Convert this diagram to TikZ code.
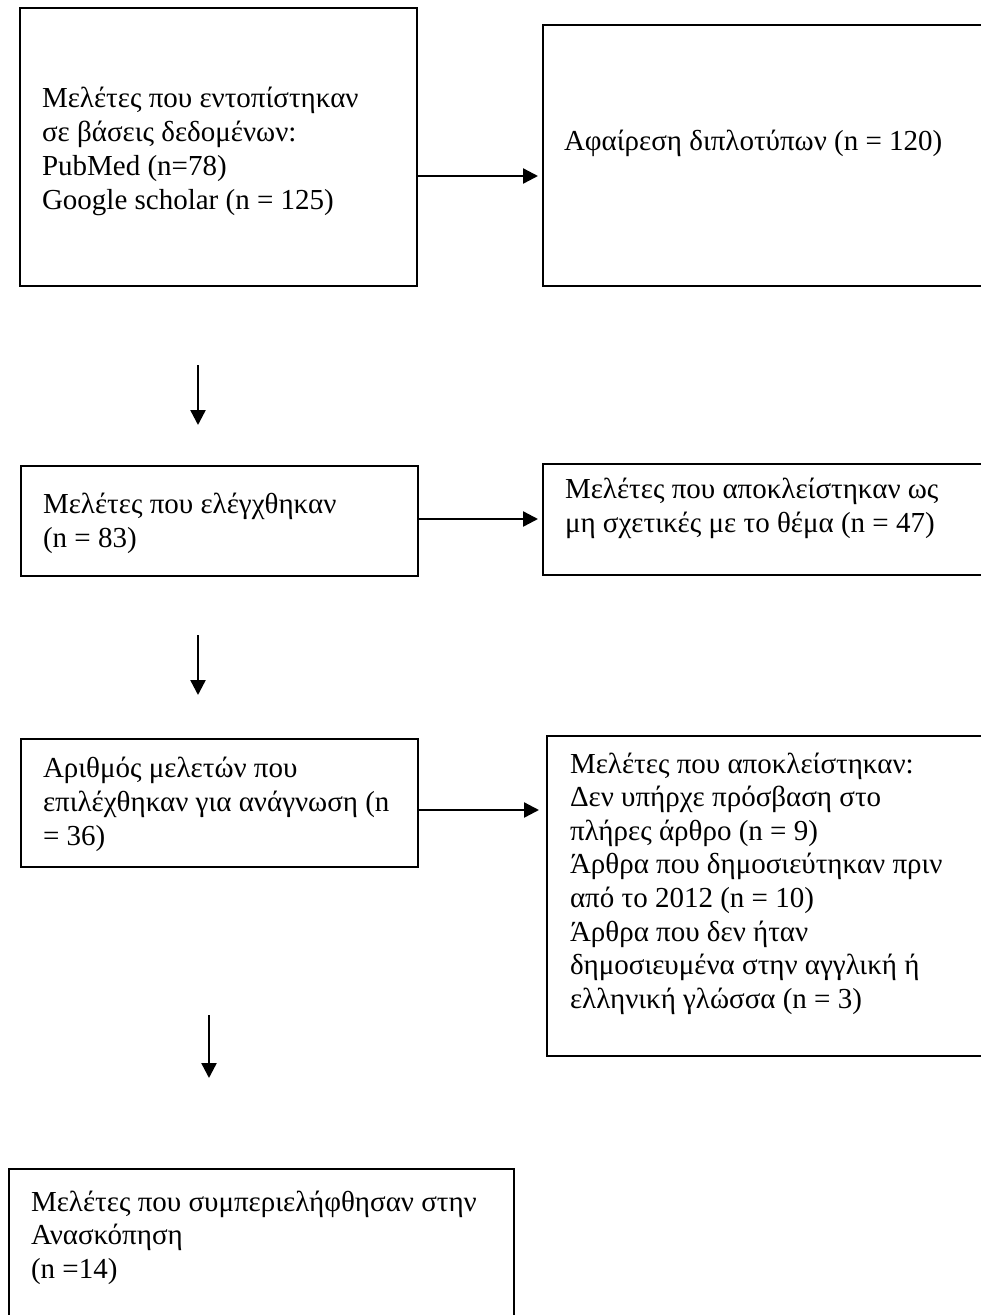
\documentclass[tikz,border=0pt]{standalone}
\usepackage{fontspec}
\setmainfont{Liberation Serif}
\usetikzlibrary{arrows.meta}
\tikzset{
  box/.style={draw=black, line width=2.6pt, rectangle, anchor=north west, inner sep=0pt, outer sep=0pt},
  txt/.style={anchor=base west, inner sep=0pt, outer sep=0pt, font=\fontsize{29}{34}\selectfont},
  arr/.style={line width=2.4pt, -{Triangle[length=15pt,width=15pt]}}
}
\newcommand{\boxtext}[2][34pt]{\parbox[t]{600pt}{\setlength{\baselineskip}{#1}\raggedright #2}}
\begin{document}
\begin{tikzpicture}[x=1pt,y=-1pt]
\useasboundingbox (0,0) rectangle (981,1315);
\fill[white] (0,0) rectangle (981,1315);
\clip (0,0) rectangle (981,1315);
% boxes
\node[box, minimum width=397pt, minimum height=278pt] (b1) at (20,8) {};
\node[box, minimum width=600pt, minimum height=261pt] (b2) at (543,25) {};
\node[box, minimum width=397pt, minimum height=110pt] (b3) at (21,466) {};
\node[box, minimum width=600pt, minimum height=111pt] (b4) at (543,464) {};
\node[box, minimum width=397pt, minimum height=128pt] (b5) at (21,739) {};
\node[box, minimum width=600pt, minimum height=320pt] (b6) at (547,736) {};
\node[box, minimum width=505pt, minimum height=300pt] (b7) at (9,1169) {};
% texts
\node[txt] (t1) at (42,107) {\boxtext{Μελέτες που εντοπίστηκαν\\σε βάσεις δεδομένων:\\PubMed (n=78)\\Google scholar (n = 125)}};
\node[txt] (t2) at (564,150) {Αφαίρεση διπλοτύπων (n = 120)};
\node[txt] (t3) at (43,513) {\boxtext{Μελέτες που ελέγχθηκαν\\(n = 83)}};
\node[txt] (t4) at (565,498) {\boxtext{Μελέτες που αποκλείστηκαν ως\\μη σχετικές με το θέμα (n = 47)}};
\node[txt] (t5) at (43,777) {\boxtext{Αριθμός μελετών που\\επιλέχθηκαν για ανάγνωση (n\\= 36)}};
\node[txt] (t6) at (570,773) {\boxtext[33.6pt]{Μελέτες που αποκλείστηκαν:\\Δεν υπήρχε πρόσβαση στο\\πλήρες άρθρο (n = 9)\\Άρθρα που δημοσιεύτηκαν πριν\\από το 2012 (n = 10)\\Άρθρα που δεν ήταν\\δημοσιευμένα στην αγγλική ή\\ελληνική γλώσσα (n = 3)}};
\node[txt] (t7) at (31,1211) {\boxtext[33.5pt]{Μελέτες που συμπεριελήφθησαν στην\\Ανασκόπηση\\(n =14)}};
% horizontal connectors
\draw[arr, shorten >=5pt] (b1.east |- 0,176) -- (b2.west |- 0,176);
\draw[arr, shorten >=5pt] (b3.east |- 0,519) -- (b4.west |- 0,519);
\draw[arr, shorten >=8pt] (b5.east |- 0,810) -- (b6.west |- 0,810);
% vertical arrows
\coordinate (d1s) at (198,365);
\coordinate (d1e) at (198,425);
\coordinate (d2s) at (198,635);
\coordinate (d2e) at (198,695);
\coordinate (d3s) at (209,1015);
\coordinate (d3e) at (209,1078);
\draw[arr] (d1s) -- (d1e);
\draw[arr] (d2s) -- (d2e);
\draw[arr] (d3s) -- (d3e);
\end{tikzpicture}
\end{document}
